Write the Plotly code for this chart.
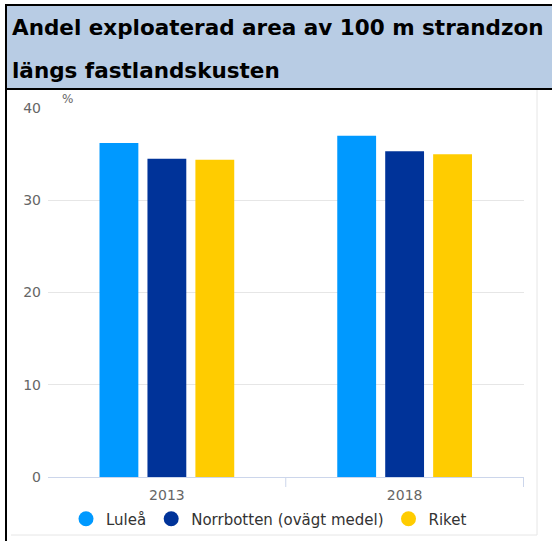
import plotly.graph_objects as go

# data
years = ["2013", "2018"]
series_names = ["Luleå", "Norrbotten (ovägt medel)", "Riket"]
lulea = [36.2, 37.0]
norrbotten = [34.5, 35.3]
riket = [34.4, 35.0]
colors = ["#0099ff", "#003399", "#ffcc00"]

title_lines = ["Andel exploaterad area av 100 m strandzon", "längs fastlandskusten"]

W, H = 552, 541
L, R, T, B = 48, 28, 108, 64


def px(x):
    return (x - L) / (W - L - R)


def py(y):
    return (H - B - y) / (H - T - B)


fig = go.Figure()
for name, vals, c in zip(series_names, [lulea, norrbotten, riket], colors):
    fig.add_trace(go.Bar(x=years, y=vals, name=name, marker_color=c,
                         marker_line_width=0, showlegend=False))
    # round legend markers like the original
    fig.add_trace(go.Scatter(x=[None], y=[None], mode="markers", name=name,
                             marker=dict(color=c, size=15, symbol="circle")))

fig.update_layout(
    width=W, height=H,
    margin=dict(l=L, r=R, t=T, b=B, autoexpand=False),
    paper_bgcolor="white", plot_bgcolor="white",
    font=dict(family="DejaVu Sans", size=14, color="#666666"),
    barmode="group", bargap=0.395, bargroupgap=0.19,
    showlegend=True,
    legend=dict(orientation="h", x=px(66), y=py(519), xanchor="left", yanchor="middle",
                font=dict(size=15, color="#333333"), itemwidth=30,
                bgcolor="rgba(0,0,0,0)"),
)
fig.update_xaxes(type="category", showline=True, linecolor="#ccd6eb", linewidth=1,
                 ticks="", showgrid=False, ticklabelstandoff=5,
                 tickfont=dict(size=14, color="#666666"))
fig.update_yaxes(range=[0, 40], dtick=10, showgrid=True, gridcolor="#e6e6e6",
                 zeroline=False, showline=False, tickfont=dict(size=14, color="#666666"),
                 ticklabelstandoff=6)

# category divider ticks (no tick at the left edge, as in the original)
for xb in [0.5, 1.5]:
    fig.add_shape(type="line", xref="x", yref="paper", x0=xb, x1=xb,
                  y0=0, y1=py(487), line=dict(color="#ccd6eb", width=1))

# outer frame of the chart image
fig.add_shape(type="line", xref="paper", yref="paper", x0=px(537), x1=px(537),
              y0=py(90), y1=py(535), line=dict(color="#e6e6e6", width=1))
fig.add_shape(type="line", xref="paper", yref="paper", x0=px(11), x1=px(537),
              y0=py(535), y1=py(535), line=dict(color="#e6e6e6", width=1))

# title box
fig.add_shape(type="rect", xref="paper", yref="paper", x0=px(6), x1=px(570),
              y0=py(5), y1=py(89), fillcolor="#b8cce4", line=dict(color="black", width=2))
fig.add_shape(type="line", xref="paper", yref="paper", x0=px(6), x1=px(6),
              y0=py(89), y1=py(560), line=dict(color="black", width=2))

for i, line in enumerate(title_lines):
    fig.add_annotation(text="<b>" + line + "</b>", xref="paper", yref="paper",
                       x=px(10), y=py(27 + 43 * i), xanchor="left", yanchor="middle",
                       showarrow=False, font=dict(family="DejaVu Sans", size=21.5, color="black"))

fig.add_annotation(text="%", xref="paper", yref="paper", x=px(67), y=py(99),
                   xanchor="center", yanchor="middle", showarrow=False,
                   font=dict(size=12, color="#666666"))

fig.write_html("out.html", config={"displayModeBar": False},
               post_script="document.body.style.margin='0';")
